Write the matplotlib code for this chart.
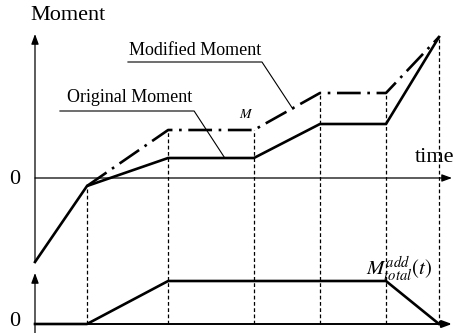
import matplotlib.pyplot as plt

plt.rcParams['font.family'] = ['Liberation Serif', 'DejaVu Serif']
plt.rcParams['mathtext.fontset'] = 'stix'

# break points on the time axis
times = [0, 1.0, 2.56, 4.21, 5.48, 6.75, 7.77]
# moment curves (top panel)
original = [-8.4, -0.8, 2.0, 2.0, 5.4, 5.4, 14.1]
modified = [-0.8, 4.8, 4.8, 8.5, 8.5, 14.1]   # starts at times[1]
# added total moment (bottom panel)
added = [0, 0, 4.3, 4.3, 4.3, 4.3, 0]
base = -14.6   # zero level of the lower panel

fig = plt.figure(figsize=(4.54, 3.33), dpi=100)
ax = fig.add_axes([0, 0, 1, 1])
ax.set_xlim(-0.673, 8.058)
ax.set_ylim(-15.5, 17.8)
ax.axis('off')

arrow = dict(arrowstyle='-|>,head_length=0.6,head_width=0.22', color='k',
             lw=0.9, mutation_scale=10, shrinkA=0, shrinkB=0)

# axes with arrows
ax.annotate('', xy=(0, 14.4), xytext=(0, -8.4), arrowprops=arrow)
ax.annotate('', xy=(8.02, 0), xytext=(0, 0), arrowprops=arrow)
ax.annotate('', xy=(0, -9.5), xytext=(0, -15.5), arrowprops=arrow)
ax.annotate('', xy=(8.02, base), xytext=(0, base),
            arrowprops=dict(arrow, lw=1.4))

# vertical dashed guides
ax.vlines(times[1:], base, modified, colors='k', lw=0.9,
          linestyles=(0, (3, 2)))

# curves
ax.plot(times, original, color='k', lw=1.9, solid_joinstyle='miter')
ax.plot(times[1:], modified, color='k', lw=1.9,
        linestyle=(0, (9, 2.5, 1, 2.5)))
ax.plot(times, [base + a for a in added], color='k', lw=1.9)

# labels
ax.text(0.635, 16.2, 'Moment', fontsize=16, ha='center', va='center')
ax.text(-0.385, -0.2, '0', fontsize=16, ha='center', va='center')
ax.text(-0.385, -14.4, '0', fontsize=16, ha='center', va='center')
ax.text(7.31, 2.0, 'time', fontsize=16, ha='left', va='center')

ax.text(3.087, 12.7, 'Modified Moment', fontsize=13, ha='center', va='center')
ax.plot([1.788, 4.365, 4.96], [11.6, 11.6, 6.9], color='k', lw=0.8)

ax.text(1.817, 8.0, 'Original Moment', fontsize=13, ha='center', va='center')
ax.plot([0.48, 3.06, 3.65], [6.7, 6.7, 2.0], color='k', lw=0.8)

ax.text(4.06, 6.3, '$M$', fontsize=10, ha='center', va='center')
ax.text(7.0, -9.1, r'$M_{total}^{add}(t)$', fontsize=15, ha='center', va='center')

fig.savefig('out.png', dpi=100)
